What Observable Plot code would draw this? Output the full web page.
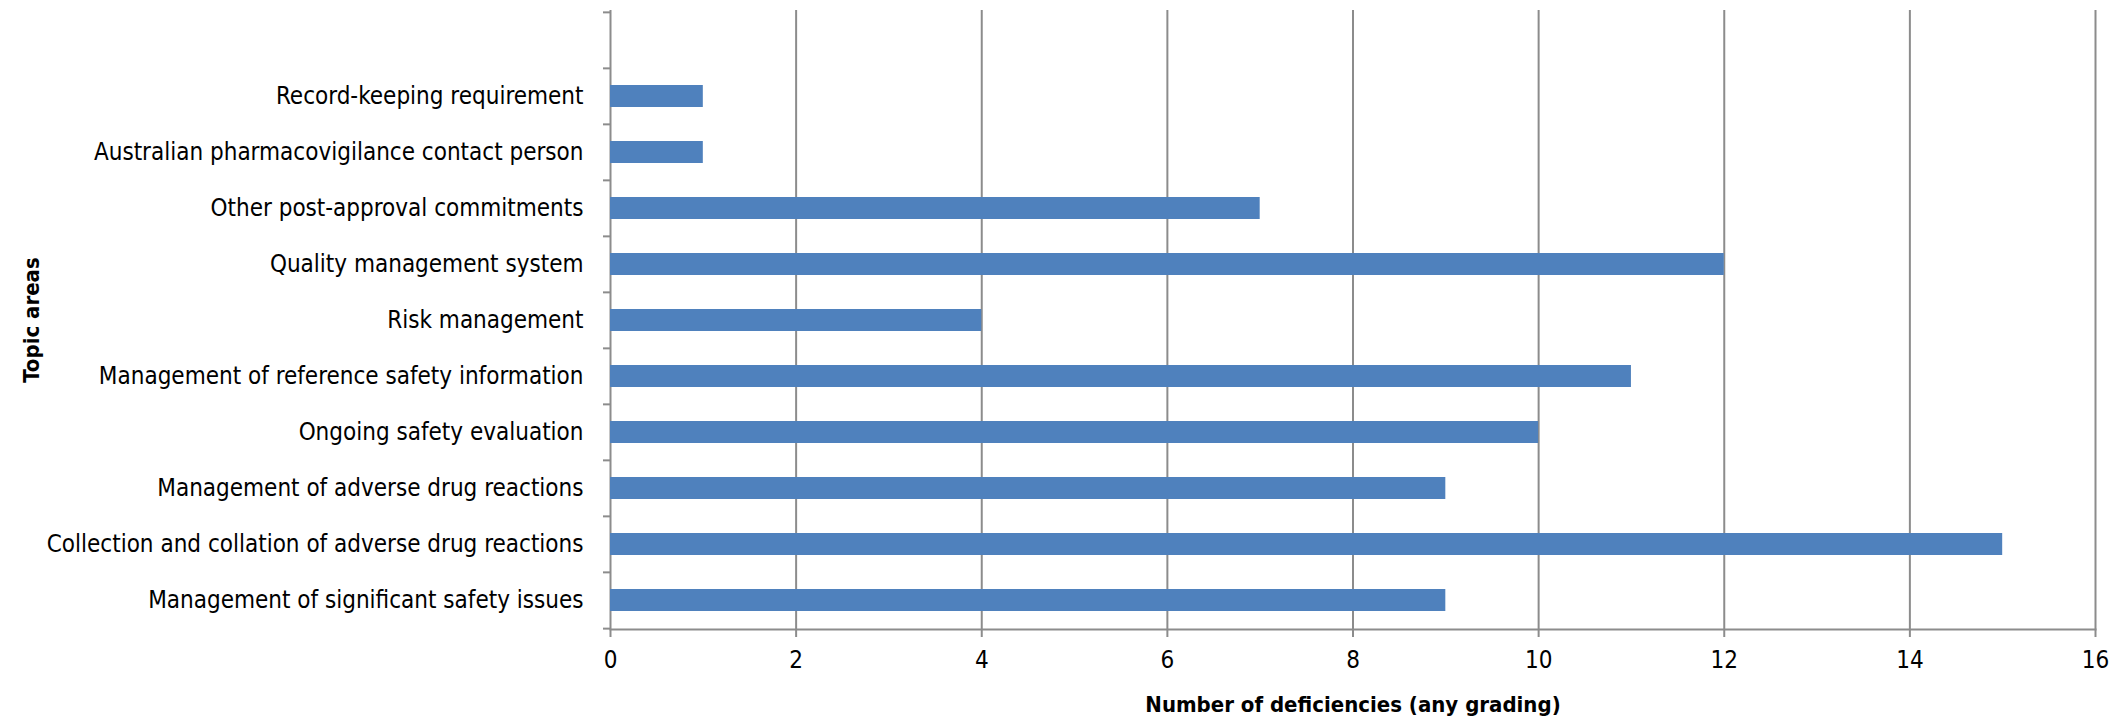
<!DOCTYPE html>
<html>
<head>
<meta charset="utf-8">
<script src="https://cdn.jsdelivr.net/npm/d3@7"></script>
<script src="https://cdn.jsdelivr.net/npm/@observablehq/plot@0.6"></script>
<style>
  html, body { margin: 0; padding: 0; background: #fff; }
  #chart svg { display: block; }
  #chart [aria-label="x-axis label"] text, #chart [aria-label="y-axis label"] text { font-weight: bold; font-size: 22px; }
</style>
</head>
<body>
<div id="chart"></div>
<script>
const categories = [
  "Record-keeping requirement",
  "Australian pharmacovigilance contact person",
  "Other post-approval commitments",
  "Quality management system",
  "Risk management",
  "Management of reference safety information",
  "Ongoing safety evaluation",
  "Management of adverse drug reactions",
  "Collection and collation of adverse drug reactions",
  "Management of significant safety issues"
];
const values = [1, 1, 7, 12, 4, 11, 10, 9, 15, 9];
const xTicks = [0, 2, 4, 6, 8, 10, 12, 14, 16];
const xLabel = "Number of deficiencies (any grading)";
const yLabel = "Topic areas";

const data = categories.map((c, i) => ({category: c, value: values[i]}));
const yDomain = ["", ...categories];

const W = 2125, H = 721;
const mt = 10, mb = 92, ml = 610, mr = 30;
const bw = (H - mt - mb) / yDomain.length;
const gray = "#8c8c8c";
const font = "'Liberation Sans Narrow', 'DejaVu Sans Condensed', sans-serif";

const chart = Plot.plot({
  width: W,
  height: H,
  marginTop: mt,
  marginBottom: mb,
  marginLeft: ml,
  marginRight: mr,
  style: {fontFamily: font, fontSize: "24px", color: "#000", background: "#fff"},
  x: {domain: [0, 16], ticks: xTicks},
  y: {domain: yDomain, padding: 0},
  marks: [
    Plot.ruleX(xTicks, {stroke: gray, strokeWidth: 2}),
    Plot.barX(data, {y: "category", x: "value", fill: "#4f81bd", insetTop: 17, insetBottom: 17}),
    Plot.frame({anchor: "bottom", stroke: gray, strokeWidth: 2}),
    Plot.axisX({ticks: xTicks, tickSize: 8, tickPadding: 13, stroke: gray, strokeWidth: 2,
      label: xLabel, labelAnchor: "center", labelArrow: "none", labelOffset: 82}),
    Plot.axisY({tickSize: 0, tickPadding: 27, label: yLabel, labelAnchor: "center", labelArrow: "none", labelOffset: 587}),
    Plot.axisY({tickSize: 7, text: null, label: null, dy: -bw / 2, stroke: gray, strokeWidth: 2}),
    Plot.axisY({ticks: [categories[categories.length - 1]], tickSize: 7, text: null, label: null, dy: bw / 2, stroke: gray, strokeWidth: 2})
  ]
});
document.getElementById("chart").appendChild(chart);
</script>
</body>
</html>
